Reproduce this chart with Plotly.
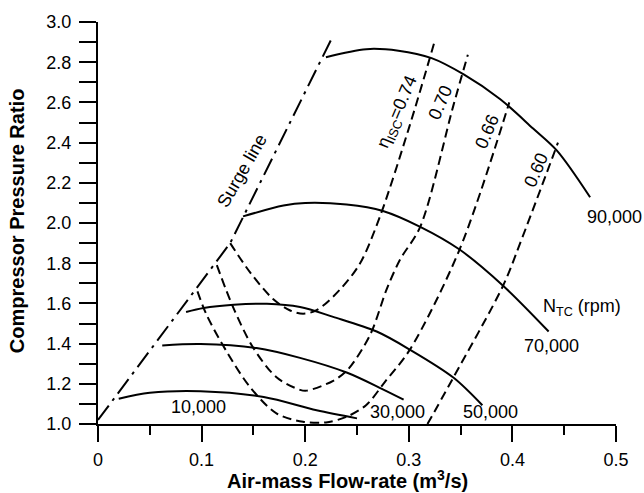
import plotly.graph_objects as go

# Turbocharger speed lines, N_TC (rpm)
n10_x = [0.020, 0.050, 0.099, 0.160, 0.211, 0.250]
n10_y = [1.126, 1.155, 1.163, 1.134, 1.068, 1.028]

n30_x = [0.062, 0.099, 0.153, 0.195, 0.240, 0.274, 0.295]
n30_y = [1.391, 1.398, 1.378, 1.329, 1.256, 1.175, 1.121]

n50_x = [0.085, 0.102, 0.131, 0.163, 0.195, 0.227, 0.269, 0.301, 0.343, 0.371]
n50_y = [1.557, 1.577, 1.593, 1.598, 1.582, 1.533, 1.460, 1.370, 1.231, 1.093]

n70_x = [0.140, 0.179, 0.200, 0.240, 0.275, 0.311, 0.349, 0.391, 0.435]
n70_y = [2.033, 2.087, 2.100, 2.092, 2.060, 1.981, 1.868, 1.688, 1.460]

n90_x = [0.220, 0.259, 0.290, 0.322, 0.353, 0.388, 0.420, 0.443, 0.475]
n90_y = [2.825, 2.865, 2.857, 2.820, 2.739, 2.617, 2.470, 2.360, 2.128]

# Surge line
surge_x = [0.000, 0.1276, 0.2256]
surge_y = [1.020, 1.900, 2.918]

# Isentropic efficiency contours
e74_x = [0.1276, 0.147, 0.169, 0.185, 0.198, 0.211, 0.234, 0.253, 0.272, 0.301, 0.325]
e74_y = [1.900, 1.753, 1.622, 1.566, 1.549, 1.566, 1.671, 1.800, 2.030, 2.487, 2.905]

e70_x = [0.1147, 0.131, 0.150, 0.1726, 0.195, 0.2015, 0.227, 0.241, 0.2626, 0.2787, 0.2916, 0.311, 0.343, 0.357]
e70_y = [1.790, 1.574, 1.378, 1.231, 1.170, 1.166, 1.215, 1.270, 1.443, 1.671, 1.818, 1.981, 2.584, 2.837]

e66_x = [0.096, 0.105, 0.124, 0.147, 0.1726, 0.198, 0.220, 0.240, 0.259, 0.277, 0.301, 0.349, 0.397]
e66_y = [1.660, 1.541, 1.362, 1.182, 1.052, 1.011, 1.008, 1.036, 1.095, 1.210, 1.370, 1.868, 2.600]

e60_x = [0.318, 0.322, 0.343, 0.391, 0.4075, 0.444]
e60_y = [1.000, 1.036, 1.231, 1.688, 1.900, 2.400]

# Axis tick labels
x_tick_vals = [0, 0.1, 0.2, 0.3, 0.4, 0.5]
x_tick_text = ["0", "0.1", "0.2", "0.3", "0.4", "0.5"]
y_tick_vals = [1.0, 1.2, 1.4, 1.6, 1.8, 2.0, 2.2, 2.4, 2.6, 2.8, 3.0]
y_tick_text = ["1.0", "1.2", "1.4", "1.6", "1.8", "2.0", "2.2", "2.4", "2.6", "2.8", "3.0"]

FONT = "Liberation Sans, Arial, sans-serif"

fig = go.Figure()


def add_curve(x, y, dash="solid", shape="spline"):
    fig.add_trace(go.Scatter(
        x=x, y=y, mode="lines",
        line=dict(color="black", width=2, dash=dash, shape=shape, smoothing=0.9),
        hoverinfo="skip", showlegend=False, cliponaxis=False,
    ))


for xs, ys in [(n10_x, n10_y), (n30_x, n30_y), (n50_x, n50_y), (n70_x, n70_y), (n90_x, n90_y)]:
    add_curve(xs, ys)

add_curve(surge_x, surge_y, dash="18px,6px,3px,6px", shape="linear")

for xs, ys in [(e74_x, e74_y), (e70_x, e70_y), (e66_x, e66_y), (e60_x, e60_y)]:
    add_curve(xs, ys, dash="9px,5px")

labels = [
    (0.0967, 1.083, "10,000", 0),
    (0.2887, 1.059, "30,000", 0),
    (0.379, 1.059, "50,000", 0),
    (0.438, 1.386, "70,000", 0),
    (0.499, 2.032, "90,000", 0),
    (0.467, 1.582, "N<sub>TC</sub> (rpm)", 0),
    (0.139, 2.257, "Surge line", -60),
    (0.2896, 2.55, "η<sub>ISC</sub>=0.74", -67),
    (0.331, 2.60, "0.70", -67),
    (0.3755, 2.452, "0.66", -67),
    (0.4226, 2.266, "0.60", -67),
]
for x, y, t, ang in labels:
    fig.add_annotation(x=x, y=y, text=t, textangle=ang, showarrow=False,
                       font=dict(family=FONT, size=18, color="black"))

# Axis titles
fig.add_annotation(xref="paper", yref="paper", x=0.482, y=-0.139, yanchor="middle",
                   text="<b>Air-mass Flow-rate (m<sup>3</sup>/s)</b>", showarrow=False,
                   font=dict(family=FONT, size=20, color="black"))
fig.add_annotation(xref="paper", yref="paper", x=-0.156, y=0.505, xanchor="center",
                   text="<b>Compressor Pressure Ratio</b>", textangle=-90, showarrow=False,
                   font=dict(family=FONT, size=20, color="black"))

fig.update_layout(
    width=644, height=493,
    margin=dict(l=98, r=28, t=15, b=69),
    paper_bgcolor="white", plot_bgcolor="white",
    font=dict(family=FONT, size=18, color="black"),
    xaxis=dict(
        range=[0, 0.5], tickvals=x_tick_vals, ticktext=x_tick_text,
        showgrid=False, zeroline=False,
        showline=True, linewidth=2, linecolor="black",
        ticks="outside", ticklen=16, tickwidth=2, tickcolor="black",
        minor=dict(dtick=0.05, tick0=0, ticks="outside", ticklen=9, tickwidth=2, tickcolor="black"),
        ticklabelstandoff=2,
    ),
    yaxis=dict(
        range=[1, 3], tickvals=y_tick_vals, ticktext=y_tick_text,
        showgrid=False, zeroline=False,
        showline=True, linewidth=2, linecolor="black",
        ticks="outside", ticklen=17, tickwidth=2, tickcolor="black",
        minor=dict(dtick=0.1, tick0=1.0, ticks="outside", ticklen=17, tickwidth=2, tickcolor="black"),
        ticklabelstandoff=4,
    ),
)

fig.write_html("out.html", config={"displayModeBar": False})
